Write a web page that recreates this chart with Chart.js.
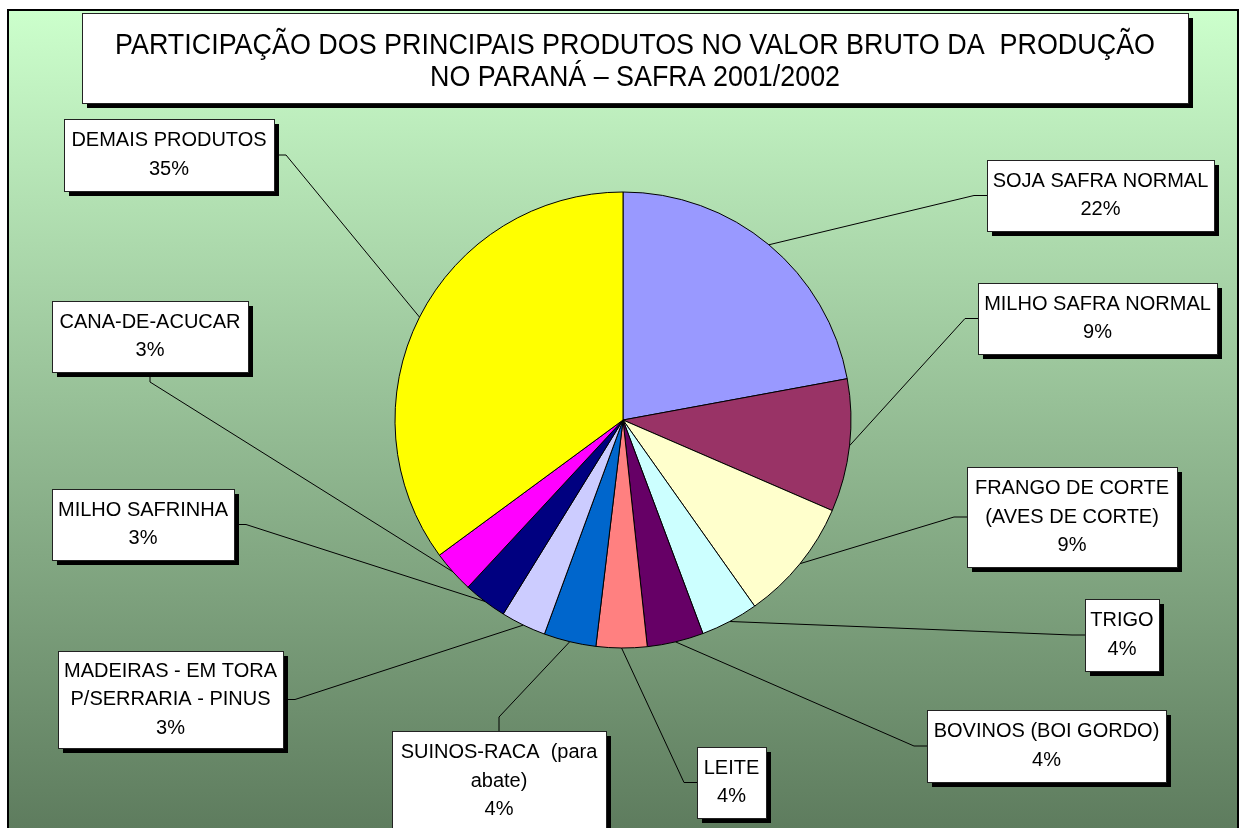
<!DOCTYPE html>
<html>
<head>
<meta charset="utf-8">
<script src="https://cdn.jsdelivr.net/npm/chart.js@4.4.1/dist/chart.umd.min.js"></script>
<style>
html,body{margin:0;padding:0;background:#fff}
canvas{display:block}
</style>
</head>
<body>
<canvas id="grafico" width="1242" height="828"></canvas>
<script>
// dados do grafico (participacao no VBP - Parana safra 2001/2002)

var titulo=["PARTICIPAÇÃO DOS PRINCIPAIS PRODUTOS NO VALOR BRUTO DA  PRODUÇÃO","NO PARANÁ – SAFRA 2001/2002"]

var produtos=["SOJA SAFRA NORMAL","MILHO SAFRA NORMAL","FRANGO DE CORTE (AVES DE CORTE)","TRIGO","BOVINOS (BOI GORDO)","LEITE","SUINOS-RACA (para abate)","MADEIRAS - EM TORA P/SERRARIA - PINUS","MILHO SAFRINHA","CANA-DE-ACUCAR","DEMAIS PRODUTOS"]

// como o nome aparece quebrado nas caixas
var linhasRotulo=[["SOJA SAFRA NORMAL"],["MILHO SAFRA NORMAL"],["FRANGO DE CORTE","(AVES DE CORTE)"],["TRIGO"],["BOVINOS (BOI GORDO)"],["LEITE"],["SUINOS-RACA  (para","abate)"],["MADEIRAS - EM TORA","P/SERRARIA - PINUS"],["MILHO SAFRINHA"],["CANA-DE-ACUCAR"],["DEMAIS PRODUTOS"]]

var valores=[22.1,9.4,8.7,4.1,4.0,3.6,3.7,3.2,3.1,3.0,35.1]

var cores=["#9999FF","#993366","#FFFFCC","#CCFFFF","#660066","#FF8080","#0066CC","#CCCCFF","#000080","#FF00FF","#FFFF00"]

// posicao das caixas de rotulo : x, y, largura, altura, lado de onde sai a linha
var caixas=[
    [987,160,227,71,"esq"],
    [978,283,239,71,"esq"],
    [967,467,210,100,"esq"],
    [1085,599,74,72,"esq"],
    [927,710,239,72,"esq"],
    [697,747,69,71,"esq"],
    [392,731,214,100,"cima"],
    [58,651,225,97,"dir"],
    [52,489,182,71,"dir"],
    [52,301,196,71,"baixo"],
    [64,119,210,72,"dir"]
]

var fonteRotulo='20px "Liberation Sans", Arial, sans-serif'

function caixaSombra(ctx,x,y,w,h){ // caixa branca com sombra preta
    ctx.fillStyle="#000"
    ctx.fillRect(x+5,y+5,w,h)
    ctx.fillStyle="#fff"
    ctx.fillRect(x,y,w,h)
    ctx.strokeStyle="#222"
    ctx.lineWidth=1
    ctx.strokeRect(x+0.5,y+0.5,w,h)
}

const fundo = {
    id: 'fundo',
    beforeDraw: (chart) => {
        const {ctx} = chart;
        ctx.save();
        ctx.fillStyle='#fff'
        ctx.fillRect(0,0,chart.width,chart.height)
        var grad=ctx.createLinearGradient(0,10,0,828)
        grad.addColorStop(0,'#CCFFCC')
        grad.addColorStop(1,'#5E7C5E')
        ctx.fillStyle=grad
        ctx.fillRect(8,10,1230,830)
        ctx.strokeStyle='#000'
        ctx.lineWidth=2
        ctx.beginPath()
        ctx.moveTo(8,830); ctx.lineTo(8,10); ctx.lineTo(1238,10); ctx.lineTo(1238,830)
        ctx.stroke()

        // titulo (fonte um pouco condensada)
        caixaSombra(ctx,82,13,1106,90)
        ctx.fillStyle='#000'
        ctx.textAlign='center'
        ctx.textBaseline='middle'
        ctx.font='30px "Liberation Sans", Arial, sans-serif'
        var largura=[1040,410]
        var ys=[46,78]
        for(var i=0;i<titulo.length;i++){
            var m=ctx.measureText(titulo[i]).width
            ctx.save()
            ctx.translate(635,ys[i])
            ctx.scale(largura[i]/m,1)
            ctx.fillText(titulo[i],0,0)
            ctx.restore()
        }
        ctx.restore();
    }
};

const rotulos = {
    id: 'rotulos',
    afterDatasetsDraw: (chart) => {
        const {ctx} = chart;
        const meta = chart.getDatasetMeta(0);
        const total = valores.reduce((a,b)=>a+b,0)
        ctx.save();
        // linhas de chamada
        ctx.strokeStyle='#000'
        ctx.lineWidth=1
        meta.data.forEach((arc,i)=>{
            const p=arc.getProps(['x','y','startAngle','endAngle','outerRadius'],true)
            const meio=(p.startAngle+p.endAngle)/2
            const px=p.x+Math.cos(meio)*p.outerRadius
            const py=p.y+Math.sin(meio)*p.outerRadius
            const c=caixas[i]
            var ax,ay,bx,by
            if(c[4]=="esq"){ ax=c[0]; ay=c[1]+c[3]/2; bx=ax-13; by=ay }
            else if(c[4]=="dir"){ ax=c[0]+c[2]; ay=c[1]+c[3]/2; bx=ax+12; by=ay }
            else if(c[4]=="cima"){ ax=c[0]+c[2]/2; ay=c[1]; bx=ax; by=ay-14 }
            else { ax=c[0]+c[2]/2; ay=c[1]+c[3]; bx=ax; by=ay+10 }
            ctx.beginPath()
            ctx.moveTo(ax,ay); ctx.lineTo(bx,by); ctx.lineTo(px,py)
            ctx.stroke()
        })
        // caixas e textos
        meta.data.forEach((arc,i)=>{
            const c=caixas[i]
            caixaSombra(ctx,c[0],c[1],c[2],c[3])
            var linhas=linhasRotulo[i].concat([Math.round(valores[i]/total*100)+"%"])
            ctx.fillStyle='#000'
            ctx.font=fonteRotulo
            ctx.textAlign='center'
            ctx.textBaseline='middle'
            var cx=c[0]+c[2]/2
            var y0=c[1]+c[3]/2-(linhas.length-1)*28.5/2
            for(var k=0;k<linhas.length;k++){
                ctx.fillText(linhas[k],cx,y0+k*28.5)
            }
        })
        ctx.restore();
    }
};

var config={
    type:'pie',
    data:{
        labels:produtos,
        datasets:[{
            data:valores,
            backgroundColor:cores,
            borderColor:'#000',
            borderWidth:1,
            hoverOffset:0,
            radius:228
        }]
    },
    options:{
        responsive:false,
        animation:false,
        devicePixelRatio:1,
        layout:{ padding:{left:383,right:379,top:180,bottom:168} },
        plugins:{
            legend:{display:false},
            tooltip:{enabled:false},
            title:{display:false}
        }
    },
    plugins:[fundo,rotulos]
}

var chart=new Chart(document.getElementById('grafico'),config)
</script>
</body>
</html>
